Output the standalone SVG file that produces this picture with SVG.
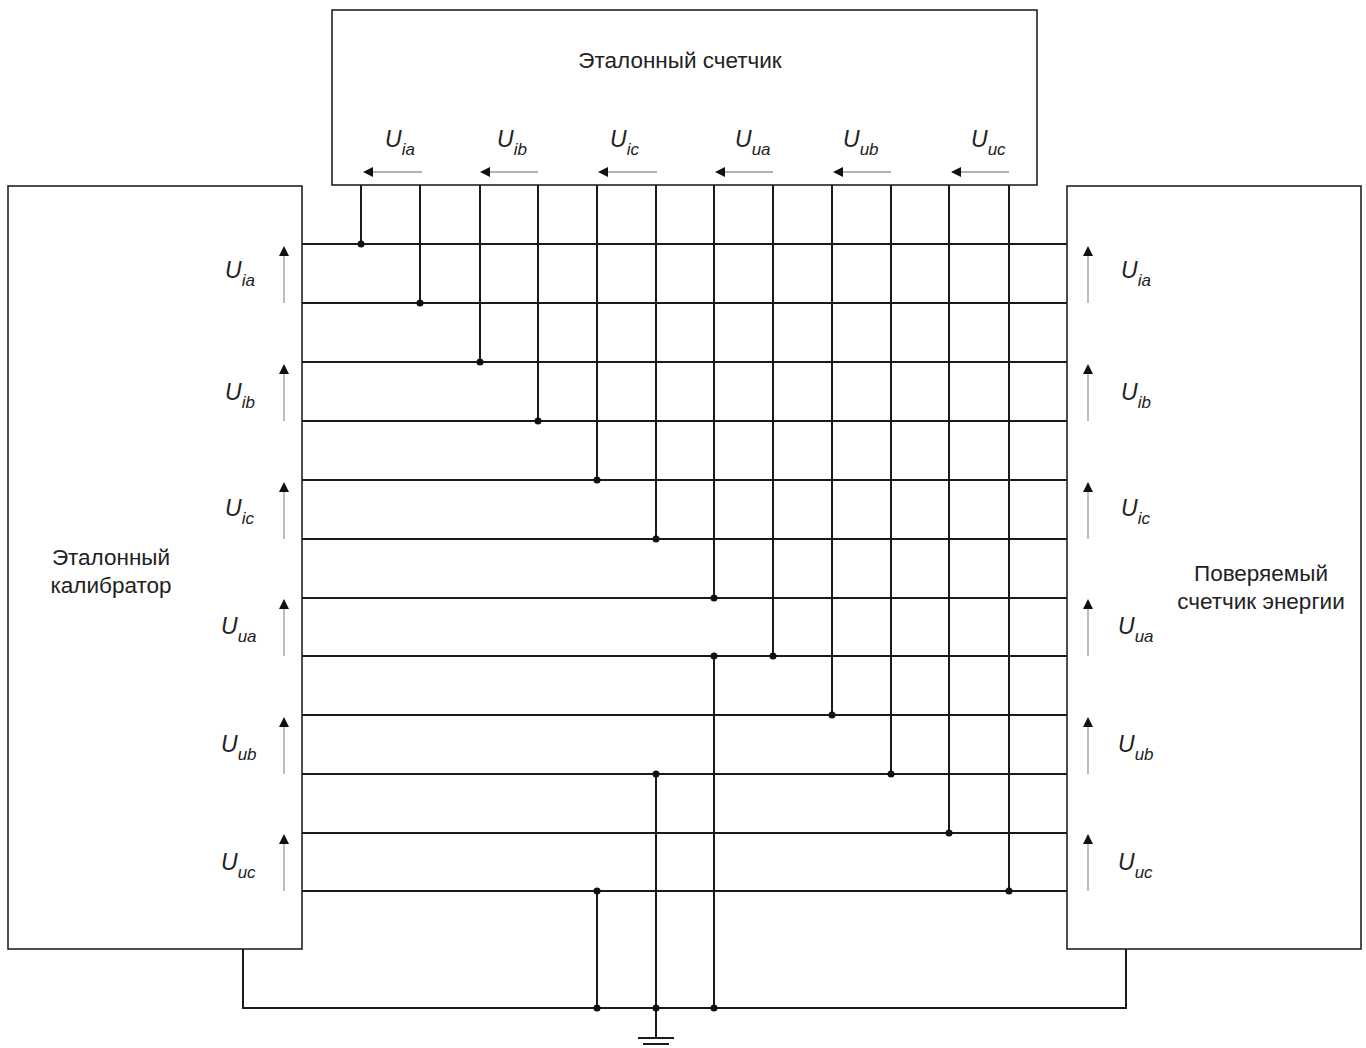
<svg xmlns="http://www.w3.org/2000/svg" width="1366" height="1048" viewBox="0 0 1366 1048">
<style>
.box{fill:#fff;stroke:#222;stroke-width:1.6}
.w{stroke:#1a1a1a;stroke-width:2;fill:none}
.ar{stroke:#999;stroke-width:1.3;fill:none;marker-end:url(#ah)}
.t{font-family:"Liberation Sans",Arial,sans-serif;font-size:22.5px;fill:#222}
.u{font-family:"Liberation Sans",Arial,sans-serif;font-size:23px;font-style:italic;fill:#222}
.s{font-size:17px}
.d{fill:#111}
</style>
<defs>
<marker id="ah" viewBox="0 0 10 10" refX="1" refY="5" markerWidth="10" markerHeight="10" markerUnits="userSpaceOnUse" orient="auto">
<path d="M0,0 L10,5 L0,10 z" fill="#111"/>
</marker>
</defs>
<rect width="1366" height="1048" fill="#fff"/>

<g id="connectors">
<path class="w" d="M302,244H1067M302,303H1067M302,362H1067M302,421H1067M302,480H1067M302,539H1067M302,598H1067M302,656H1067M302,715H1067M302,774H1067M302,833H1067M302,891H1067"/>
<path class="w" d="M361,185V244M420,185V303M480,185V362M538,185V421M597,185V480M656,185V539M714,185V598M773,185V656M832,185V715M891,185V774M949,185V833M1009,185V891"/>
<path class="w" d="M714,656V1008M656,774V1008M597,891V1008M243,949V1008H1126V949M656,1008V1038"/>
<path class="w" d="M638,1038H674M643,1044H669"/>
<g class="d">
<circle cx="361" cy="244" r="3.5"/><circle cx="420" cy="303" r="3.5"/><circle cx="480" cy="362" r="3.5"/><circle cx="538" cy="421" r="3.5"/>
<circle cx="597" cy="480" r="3.5"/><circle cx="656" cy="539" r="3.5"/><circle cx="714" cy="598" r="3.5"/><circle cx="773" cy="656" r="3.5"/>
<circle cx="832" cy="715" r="3.5"/><circle cx="891" cy="774" r="3.5"/><circle cx="949" cy="833" r="3.5"/><circle cx="1009" cy="891" r="3.5"/>
<circle cx="714" cy="656" r="3.5"/><circle cx="656" cy="774" r="3.5"/><circle cx="597" cy="891" r="3.5"/>
<circle cx="597" cy="1008" r="3.5"/><circle cx="656" cy="1008" r="3.5"/><circle cx="714" cy="1008" r="3.5"/>
</g>
</g>

<g id="ref-meter">
<rect class="box" x="332" y="10" width="705" height="175"/>
<text class="t" x="680" y="68" text-anchor="middle">Эталонный счетчик</text>
<path class="ar" d="M422,172H372"/><path class="ar" d="M538,172H489"/><path class="ar" d="M657,172H607"/>
<path class="ar" d="M773,172H724"/><path class="ar" d="M891,172H842"/><path class="ar" d="M1009,172H960"/>
<text class="u" x="385" y="147">U<tspan class="s" dy="8">ia</tspan></text>
<text class="u" x="497" y="147">U<tspan class="s" dy="8">ib</tspan></text>
<text class="u" x="610" y="147">U<tspan class="s" dy="8">ic</tspan></text>
<text class="u" x="735" y="147">U<tspan class="s" dy="8">ua</tspan></text>
<text class="u" x="843" y="147">U<tspan class="s" dy="8">ub</tspan></text>
<text class="u" x="971" y="147">U<tspan class="s" dy="8">uc</tspan></text>
</g>

<g id="calibrator">
<rect class="box" x="8" y="186" width="294" height="763"/>
<text class="t" x="111" y="565" text-anchor="middle">Эталонный</text>
<text class="t" x="111" y="593" text-anchor="middle">калибратор</text>
<path class="ar" d="M284,303V255"/><path class="ar" d="M284,421V373"/><path class="ar" d="M284,539V491"/>
<path class="ar" d="M284,656V608"/><path class="ar" d="M284,774V726"/><path class="ar" d="M284,891V843"/>
<text class="u" x="225" y="278">U<tspan class="s" dy="8">ia</tspan></text>
<text class="u" x="225" y="400">U<tspan class="s" dy="8">ib</tspan></text>
<text class="u" x="225" y="516">U<tspan class="s" dy="8">ic</tspan></text>
<text class="u" x="221" y="634">U<tspan class="s" dy="8">ua</tspan></text>
<text class="u" x="221" y="752">U<tspan class="s" dy="8">ub</tspan></text>
<text class="u" x="221" y="870">U<tspan class="s" dy="8">uc</tspan></text>
</g>

<g id="meter-under-test">
<rect class="box" x="1067" y="186" width="294" height="763"/>
<text class="t" x="1261" y="581" text-anchor="middle">Поверяемый</text>
<text class="t" x="1261" y="609" text-anchor="middle">счетчик энергии</text>
<path class="ar" d="M1088,303V255"/><path class="ar" d="M1088,421V373"/><path class="ar" d="M1088,539V491"/>
<path class="ar" d="M1088,656V608"/><path class="ar" d="M1088,774V726"/><path class="ar" d="M1088,891V843"/>
<text class="u" x="1121" y="278">U<tspan class="s" dy="8">ia</tspan></text>
<text class="u" x="1121" y="400">U<tspan class="s" dy="8">ib</tspan></text>
<text class="u" x="1121" y="516">U<tspan class="s" dy="8">ic</tspan></text>
<text class="u" x="1118" y="634">U<tspan class="s" dy="8">ua</tspan></text>
<text class="u" x="1118" y="752">U<tspan class="s" dy="8">ub</tspan></text>
<text class="u" x="1118" y="870">U<tspan class="s" dy="8">uc</tspan></text>
</g>
</svg>
